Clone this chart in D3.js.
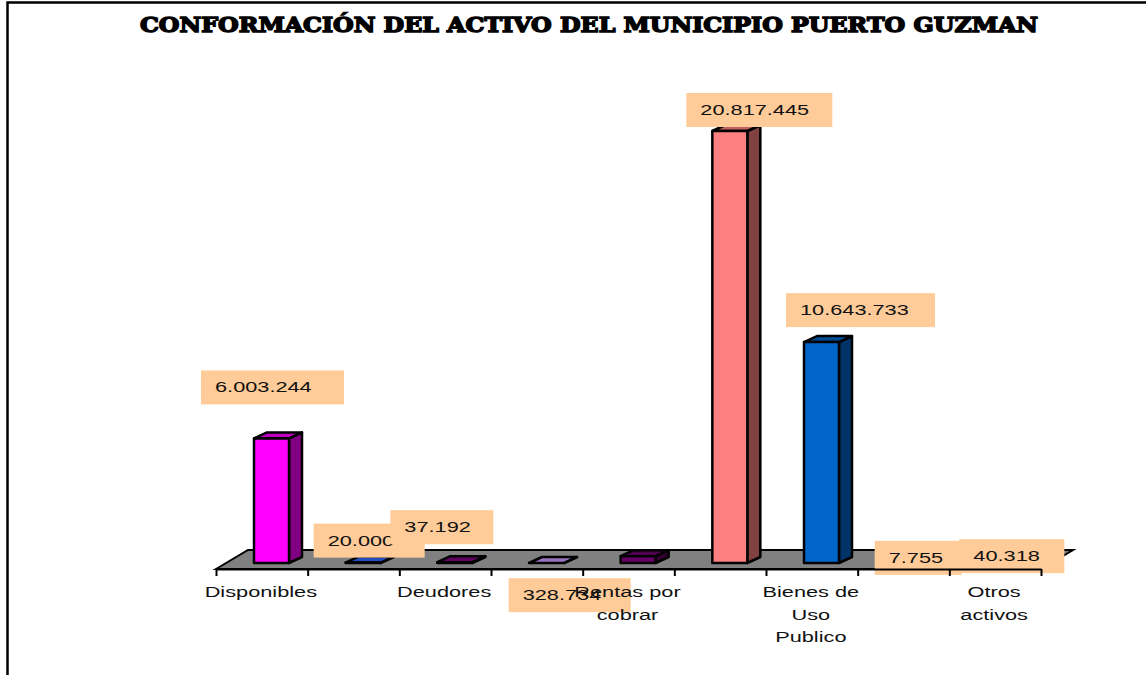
<!DOCTYPE html>
<meta charset="utf-8">
<style>
  body { margin: 0; background: #fff; }
  text { font-family: "Liberation Sans", Arial, sans-serif; fill: #111; }
</style>

<script src="https://d3js.org/d3.v7.js"></script>

<svg id="chart" width="1146" height="675"></svg>

<script>

// Data
const titleText = "CONFORMACIÓN DEL ACTIVO DEL MUNICIPIO PUERTO GUZMAN";
const categories = [["Disponibles"], [""], ["Deudores"], [""], ["Rentas por", "cobrar"], [""], ["Bienes de", "Uso", "Publico"], [""], ["Otros", "activos"]];
const values = [6003244, 20000, 37192, 0, 328734, 20817445, 10643733, 7755, 40318];
const valueLabels = ["6.003.244", "20.000", "37.192", "", "328.734", "20.817.445", "10.643.733", "7.755", "40.318"];
const barColors = ["#ff00ff", "#3366ff", "#800080", "#cc99ff", "#660066", "#ff8080", "#0066cc", "#800080", "#800080"];

// Label box placement relative to the top left of its bar: dx, dy, width
const boxLayout = [
  [-53, -68, 143], [-32, -39, 111], [-47, -52, 103], [0, 0, 0], [-112, 22, 122],
  [-26, -38, 146], [-18, -49, 149], [-21, -22, 87], [-28, -23, 105]
];
const boxH = 34;
const textStretch = 1.45;

const svg = d3.select("#chart");

// Scales
const x = d3.scaleBand().domain(d3.range(categories.length)).range([216, 1041]);
const y = d3.scaleLinear().domain([0, 20817445]).range([563, 131]);
const barW = 35, barOffset = 38;
const depthX = 13, depthY = -6;
const axisY = 569, floorBack = 550, floorSlant = 32;

// Frame
svg.append("path")
  .attr("d", "M7.5,675V2.5H1146")
  .attr("fill", "none").attr("stroke", "#000").attr("stroke-width", 2.5);

// Title
svg.append("text")
  .attr("x", 140).attr("y", 32)
  .attr("textLength", 898).attr("lengthAdjust", "spacingAndGlyphs")
  .style("font-family", "'DejaVu Serif', serif")
  .style("font-weight", "bold").style("font-size", "21px")
  .style("fill", "#000").style("stroke", "#000").style("stroke-width", 1.5)
  .text(titleText);

// Floor
svg.append("path")
  .attr("d", `M216,${axisY}L${216 + floorSlant},${floorBack}H${1041 + floorSlant}L1041,${axisY}Z`)
  .attr("fill", "#808080").attr("stroke", "#000").attr("stroke-width", 2);

// Bars: side, top, front
const bars = svg.append("g").selectAll("g")
  .data(values)
  .join("g")
    .attr("transform", (d, i) => `translate(${x(i) + barOffset},0)`)
    .attr("stroke", "#000").attr("stroke-width", 2.5).attr("stroke-linejoin", "round");

bars.append("path")
  .attr("fill", (d, i) => d3.rgb(barColors[i]).darker(1.9))
  .attr("d", d => `M${barW},${y(d)}l${depthX},${depthY}V${y(0) + depthY}L${barW},${y(0)}Z`);

bars.append("path")
  .attr("fill", (d, i) => d3.rgb(barColors[i]).darker(0.8))
  .attr("d", d => `M0,${y(d)}l${depthX},${depthY}h${barW}l${-depthX},${-depthY}Z`);

bars.append("rect")
  .attr("width", barW)
  .attr("y", d => y(d))
  .attr("height", d => y(0) - y(d))
  .attr("fill", (d, i) => barColors[i]);

// Value labels, drawn in order so later boxes cover earlier ones
const labels = svg.append("g").selectAll("g")
  .data(values)
  .join("g")
    .attr("display", (d, i) => valueLabels[i] ? null : "none")
    .attr("transform", (d, i) => `translate(${x(i) + barOffset + boxLayout[i][0]},${y(d) + boxLayout[i][1]})`);

labels.append("rect")
  .attr("width", (d, i) => boxLayout[i][2])
  .attr("height", boxH)
  .attr("fill", "#ffcc99");

labels.append("text")
  .attr("transform", `translate(14,22) scale(${textStretch},1)`)
  .style("font-size", "15px")
  .text((d, i) => valueLabels[i]);

// Axis
const tickScale = d3.scaleLinear().domain([0, categories.length]).range([216, 1041]);
svg.append("g")
  .attr("transform", `translate(0,${axisY})`)
  .call(d3.axisBottom(tickScale).ticks(categories.length).tickFormat("").tickSizeInner(7).tickSizeOuter(0))
  .call(g => g.selectAll("line, path").attr("stroke", "#000").attr("stroke-width", 2));

// Category labels
const catGroups = svg.append("g").selectAll("g")
  .data(categories)
  .join("g")
    .attr("transform", (d, i) => `translate(${x(i) + x.bandwidth() / 2 - 1},597)`);

catGroups.selectAll("text")
  .data(d => d)
  .join("text")
    .attr("text-anchor", "middle")
    .attr("transform", (d, i) => `translate(0,${i * 22.5}) scale(${textStretch},1)`)
    .style("font-size", "15px")
    .text(d => d);

</script>
